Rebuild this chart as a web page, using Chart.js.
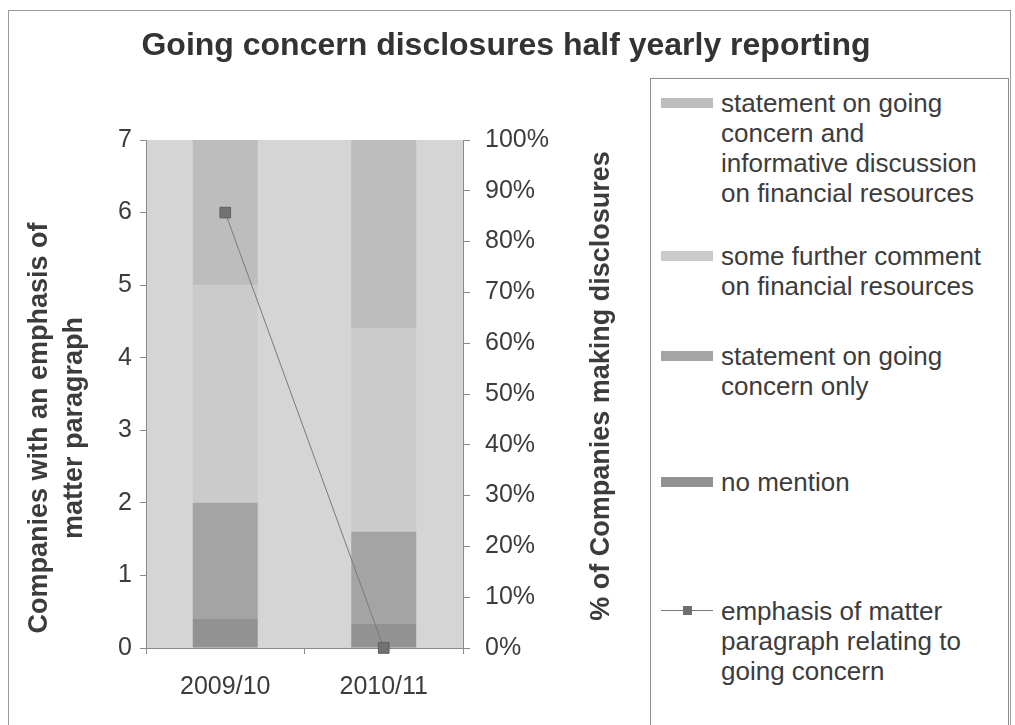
<!DOCTYPE html>
<html>
<head>
<meta charset="utf-8">
<script src="https://cdn.jsdelivr.net/npm/chart.js@4.4.1/dist/chart.umd.min.js"></script>
<style>
body { margin: 0; background: #fff; font-family: 'Liberation Sans', Arial, sans-serif; }
#frame { position: absolute; left: 8px; top: 10px; width: 1001px; height: 730px; border: 1px solid #9a9a9a; }
#chart { position: absolute; left: 0; top: 0; }
#legend { position: absolute; left: 650px; top: 78px; width: 357px; height: 660px; border: 1px solid #8c8c8c; background: #fff; }
.item { position: absolute; left: 0; width: 100%; }
.sw { position: absolute; left: 10px; top: 10px; width: 52px; height: 10px; }
.ln { position: absolute; left: 10px; top: 14px; width: 52px; height: 1px; background: #7a7a7a; }
.mk { position: absolute; left: 32px; top: 10px; width: 9px; height: 9px; background: #6e6e6e; }
.txt { position: absolute; left: 70px; top: 0; white-space: pre; font-size: 26px; line-height: 30px; color: #3c3c3c; }
</style>
</head>
<body>
<div id="frame"></div>
<canvas id="chart" width="942" height="725"></canvas>
<div id="legend"></div>
<script>
// data
var categories = ['2009/10', '2010/11'];
var noMention = [5.7, 4.8];          // % of companies
var statementOnly = [22.9, 18.1];
var furtherComment = [42.8, 40.0];
var informative = [28.6, 37.1];
var emphasisCount = [6, 0];          // companies, left axis

var chartTitle = 'Going concern disclosures half yearly reporting';
var leftTitle = ['Companies with an emphasis of', 'matter paragraph'];
var rightTitleText = '% of Companies making disclosures';

var FONT = "'Liberation Sans', Arial, sans-serif";
var TEXT = '#3c3c3c';
var AXIS = '#8a8a8a';

// legend item tops inside the legend box
var legendTops = [9, 162, 262, 388, 517];

var plotBg = {
  id: 'plotBg',
  beforeDraw: function(chart) {
    var a = chart.chartArea, ctx = chart.ctx;
    ctx.save();
    ctx.fillStyle = '#d5d5d5';
    ctx.fillRect(a.left, a.top, a.right - a.left, a.bottom - a.top);
    ctx.restore();
  }
};

// title centred on the outer frame, not on the plot
var topTitle = {
  id: 'topTitle',
  afterDraw: function(chart) {
    var ctx = chart.ctx;
    ctx.save();
    ctx.font = 'bold 32px ' + FONT;
    ctx.fillStyle = '#333';
    ctx.textAlign = 'center';
    ctx.textBaseline = 'middle';
    ctx.fillText(chartTitle, 506, 46);
    ctx.restore();
  }
};

// both axis titles read bottom-to-top
var axisTitles = {
  id: 'axisTitles',
  afterDraw: function(chart) {
    var ctx = chart.ctx, y = chart.scales.y, y2 = chart.scales.y2;
    ctx.save();
    ctx.font = 'bold 27px ' + FONT;
    ctx.fillStyle = TEXT;
    ctx.textAlign = 'center';
    ctx.textBaseline = 'middle';
    var midL = (y.top + y.bottom) / 2 + 34;
    leftTitle.forEach(function(line, i) {
      ctx.save();
      ctx.translate(y.left + 30 + i * 35, midL);
      ctx.rotate(-Math.PI / 2);
      ctx.fillText(line, 0, 0);
      ctx.restore();
    });
    ctx.translate(y2.right - 38, (y2.top + y2.bottom) / 2 - 8);
    ctx.rotate(-Math.PI / 2);
    ctx.fillText(rightTitleText, 0, 0);
    ctx.restore();
  }
};

function barSet(label, data, color) {
  return {
    type: 'bar', label: label, data: data, backgroundColor: color,
    yAxisID: 'y2', stack: 'disc', order: 1, borderWidth: 0,
    barPercentage: 0.41, categoryPercentage: 1
  };
}

var datasets = [
  barSet('no mention', noMention, '#929292'),
  barSet('statement on going\nconcern only', statementOnly, '#a4a4a4'),
  barSet('some further comment\non financial resources', furtherComment, '#cbcbcb'),
  barSet('statement on going\nconcern and\ninformative discussion\non financial resources', informative, '#bdbdbd'),
  {
    type: 'line', label: 'emphasis of matter\nparagraph relating to\ngoing concern',
    data: emphasisCount, yAxisID: 'y', order: 0,
    borderColor: '#7a7a7a', borderWidth: 1, tension: 0, clip: false,
    pointStyle: 'rect', pointRadius: 7.5,
    pointBackgroundColor: '#727272', pointBorderColor: '#5e5e5e', pointBorderWidth: 1
  }
];

var tickFont = { family: FONT, size: 25 };

var chart = new Chart(document.getElementById('chart'), {
  data: { labels: categories, datasets: datasets },
  options: {
    responsive: false,
    animation: false,
    devicePixelRatio: 1,
    layout: { padding: { top: 140, left: 10, right: 302, bottom: 0 } },
    plugins: {
      legend: { display: false },
      tooltip: { enabled: false },
      title: { display: false }
    },
    scales: {
      x: {
        stacked: true,
        grid: { offset: true, drawOnChartArea: false, tickLength: 6, color: AXIS },
        border: { color: AXIS },
        ticks: { font: tickFont, color: TEXT, padding: 18 },
        afterFit: function(s) { s.height = 77; }
      },
      y: {
        position: 'left', min: 0, max: 7, stacked: false,
        ticks: { stepSize: 1, font: tickFont, color: TEXT, padding: 8 },
        grid: { drawOnChartArea: false, tickLength: 6, color: AXIS },
        border: { color: AXIS },
        afterFit: function(s) { s.width = 136; }
      },
      y2: {
        position: 'right', min: 0, max: 100, stacked: true,
        ticks: { stepSize: 10, font: tickFont, color: TEXT, padding: 15,
          callback: function(v) { return v + '%'; } },
        grid: { drawOnChartArea: false, tickLength: 7, color: AXIS },
        border: { color: AXIS },
        afterFit: function(s) { s.width = 177; }
      }
    }
  },
  plugins: [plotBg, topTitle, axisTitles]
});

// html legend, wrapped like the original
function buildLegend() {
  var box = document.getElementById('legend');
  var ds = chart.data.datasets;
  var order = [3, 2, 1, 0, 4];
  order.forEach(function(idx, i) {
    var d = ds[idx];
    var item = document.createElement('div');
    item.className = 'item';
    item.style.top = legendTops[i] + 'px';
    if (d.type === 'line') {
      var ln = document.createElement('div'); ln.className = 'ln';
      var mk = document.createElement('div'); mk.className = 'mk';
      item.appendChild(ln); item.appendChild(mk);
    } else {
      var sw = document.createElement('div');
      sw.className = 'sw';
      sw.style.background = d.backgroundColor;
      item.appendChild(sw);
    }
    var t = document.createElement('div');
    t.className = 'txt';
    t.textContent = d.label;
    item.appendChild(t);
    box.appendChild(item);
  });
}
buildLegend();
</script>
</body>
</html>
